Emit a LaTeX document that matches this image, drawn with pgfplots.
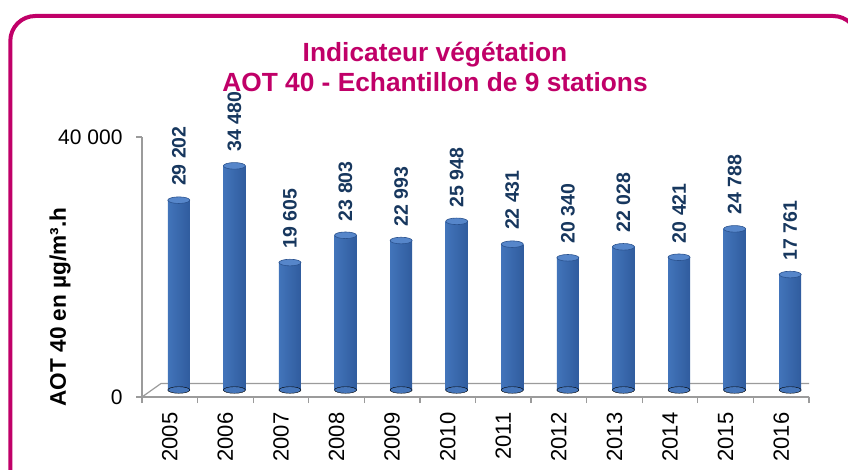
\documentclass[border=0pt]{standalone}
\usepackage{pgfplots}
\pgfplotsset{compat=1.18}
\usepackage{pgfplotstable}
\usepackage{fontspec}
\setmainfont{Liberation Sans}
\definecolor{framecol}{RGB}{192,0,104}
\definecolor{valblue}{RGB}{23,55,94}
\definecolor{axgray}{RGB}{155,155,155}
\definecolor{barL}{RGB}{66,116,186}
\definecolor{barM}{RGB}{95,145,214}
\definecolor{barR}{RGB}{48,92,158}
\definecolor{barTop}{RGB}{86,134,202}
\definecolor{barEdge}{RGB}{42,82,142}
\definecolor{barBase}{RGB}{70,118,186}
\pgfplotstableread{
x y
0 29202
1 34480
2 19605
3 23803
4 22993
5 25948
6 22431
7 20340
8 22028
9 20421
10 24788
11 17761
}\data
\pgfplotsset{cylbar/.style={ybar, bar width=22pt, bar shift=0pt, draw=none, left color=barL, middle color=barM, right color=barR,
  nodes near coords,
  nodes near coords style={rotate=90, anchor=west, inner xsep=14pt, inner ysep=0pt, font=\fontsize{19.5}{22}\selectfont\bfseries, text=valblue}}}
\begin{document}
\begin{tikzpicture}[x=1pt,y=1pt]
\useasboundingbox (0,0) rectangle (848,469);
\clip (0,0) rectangle (848,469);
\draw[framecol, line width=4pt, rounded corners=25pt] (10.3,-40) rectangle (858,453);
\node[anchor=base, text=framecol, font=\fontsize{26.3}{30}\selectfont\bfseries] at (435,407) {Indicateur végétation};
\node[anchor=base, text=framecol, font=\fontsize{26.3}{30}\selectfont\bfseries] at (435,377) {AOT 40 - Echantillon de 9 stations};
\node[rotate=90, font=\fontsize{22.6}{26}\selectfont\bfseries] at (60,162) {AOT 40 en µg/m³.h};

\begin{axis}[at={(142pt,72pt)}, anchor=south west, scale only axis,
  width=667pt, height=260pt,
  xmin=-0.5, xmax=11.5, ymin=0, ymax=40000,
  axis lines*=left,
  axis line style={axgray, line width=1.2pt},
  tick style={axgray, line width=1.2pt},
  tick align=outside, major tick length=6pt, minor tick length=6pt,
  xtick={0,1,...,11},
  xticklabels={2005,2006,2007,2008,2009,2010,2011,2012,2013,2014,2015,2016},
  minor xtick={-0.5,0.5,...,11.5},
  every major x tick/.append style={draw=none},
  xticklabel style={yshift=-6pt, rotate=90, anchor=east, font=\fontsize{22}{26}\selectfont},
  ytick={0,40000},
  yticklabel style={font=\fontsize{21}{24}\selectfont, xshift=-10pt},
  scaled y ticks=false,
  /pgf/number format/.cd, fixed, precision=0, 1000 sep={\ }, assume math mode=true]
\draw[axgray, line width=1.2pt] (axis cs:-0.5,0) -- ++(19pt,13.5pt) -- ([shift={(20pt,13.5pt)}]axis cs:11.5,0) -- (axis cs:11.5,0);
\end{axis}

\begin{axis}[at={(151pt,79pt)}, anchor=south west, scale only axis,
  width=667pt, height=260pt,
  xmin=-0.5, xmax=11.5, ymin=0, ymax=40000,
  hide axis, clip=false,
  /pgf/number format/.cd, fixed, precision=0, 1000 sep={\ }, assume math mode=true]
\addplot[only marks, mark=*, mark size=11pt, mark options={yscale=0.3, fill=barBase, draw=none}] coordinates {(0,0) (1,0) (2,0) (3,0) (4,0) (5,0) (6,0) (7,0) (8,0) (9,0) (10,0) (11,0)};
\addplot[cylbar] coordinates {(0,29202)};
\addplot[cylbar] coordinates {(1,34480)};
\addplot[cylbar] coordinates {(2,19605)};
\addplot[cylbar] coordinates {(3,23803)};
\addplot[cylbar] coordinates {(4,22993)};
\addplot[cylbar] coordinates {(5,25948)};
\addplot[cylbar] coordinates {(6,22431)};
\addplot[cylbar] coordinates {(7,20340)};
\addplot[cylbar] coordinates {(8,22028)};
\addplot[cylbar] coordinates {(9,20421)};
\addplot[cylbar] coordinates {(10,24788)};
\addplot[cylbar] coordinates {(11,17761)};
\addplot[only marks, mark=*, mark size=11pt, mark options={yscale=0.3, fill=barTop, draw=barEdge, line width=0.6pt}] table[x=x,y=y] {\data};
\end{axis}
\end{tikzpicture}
\end{document}
